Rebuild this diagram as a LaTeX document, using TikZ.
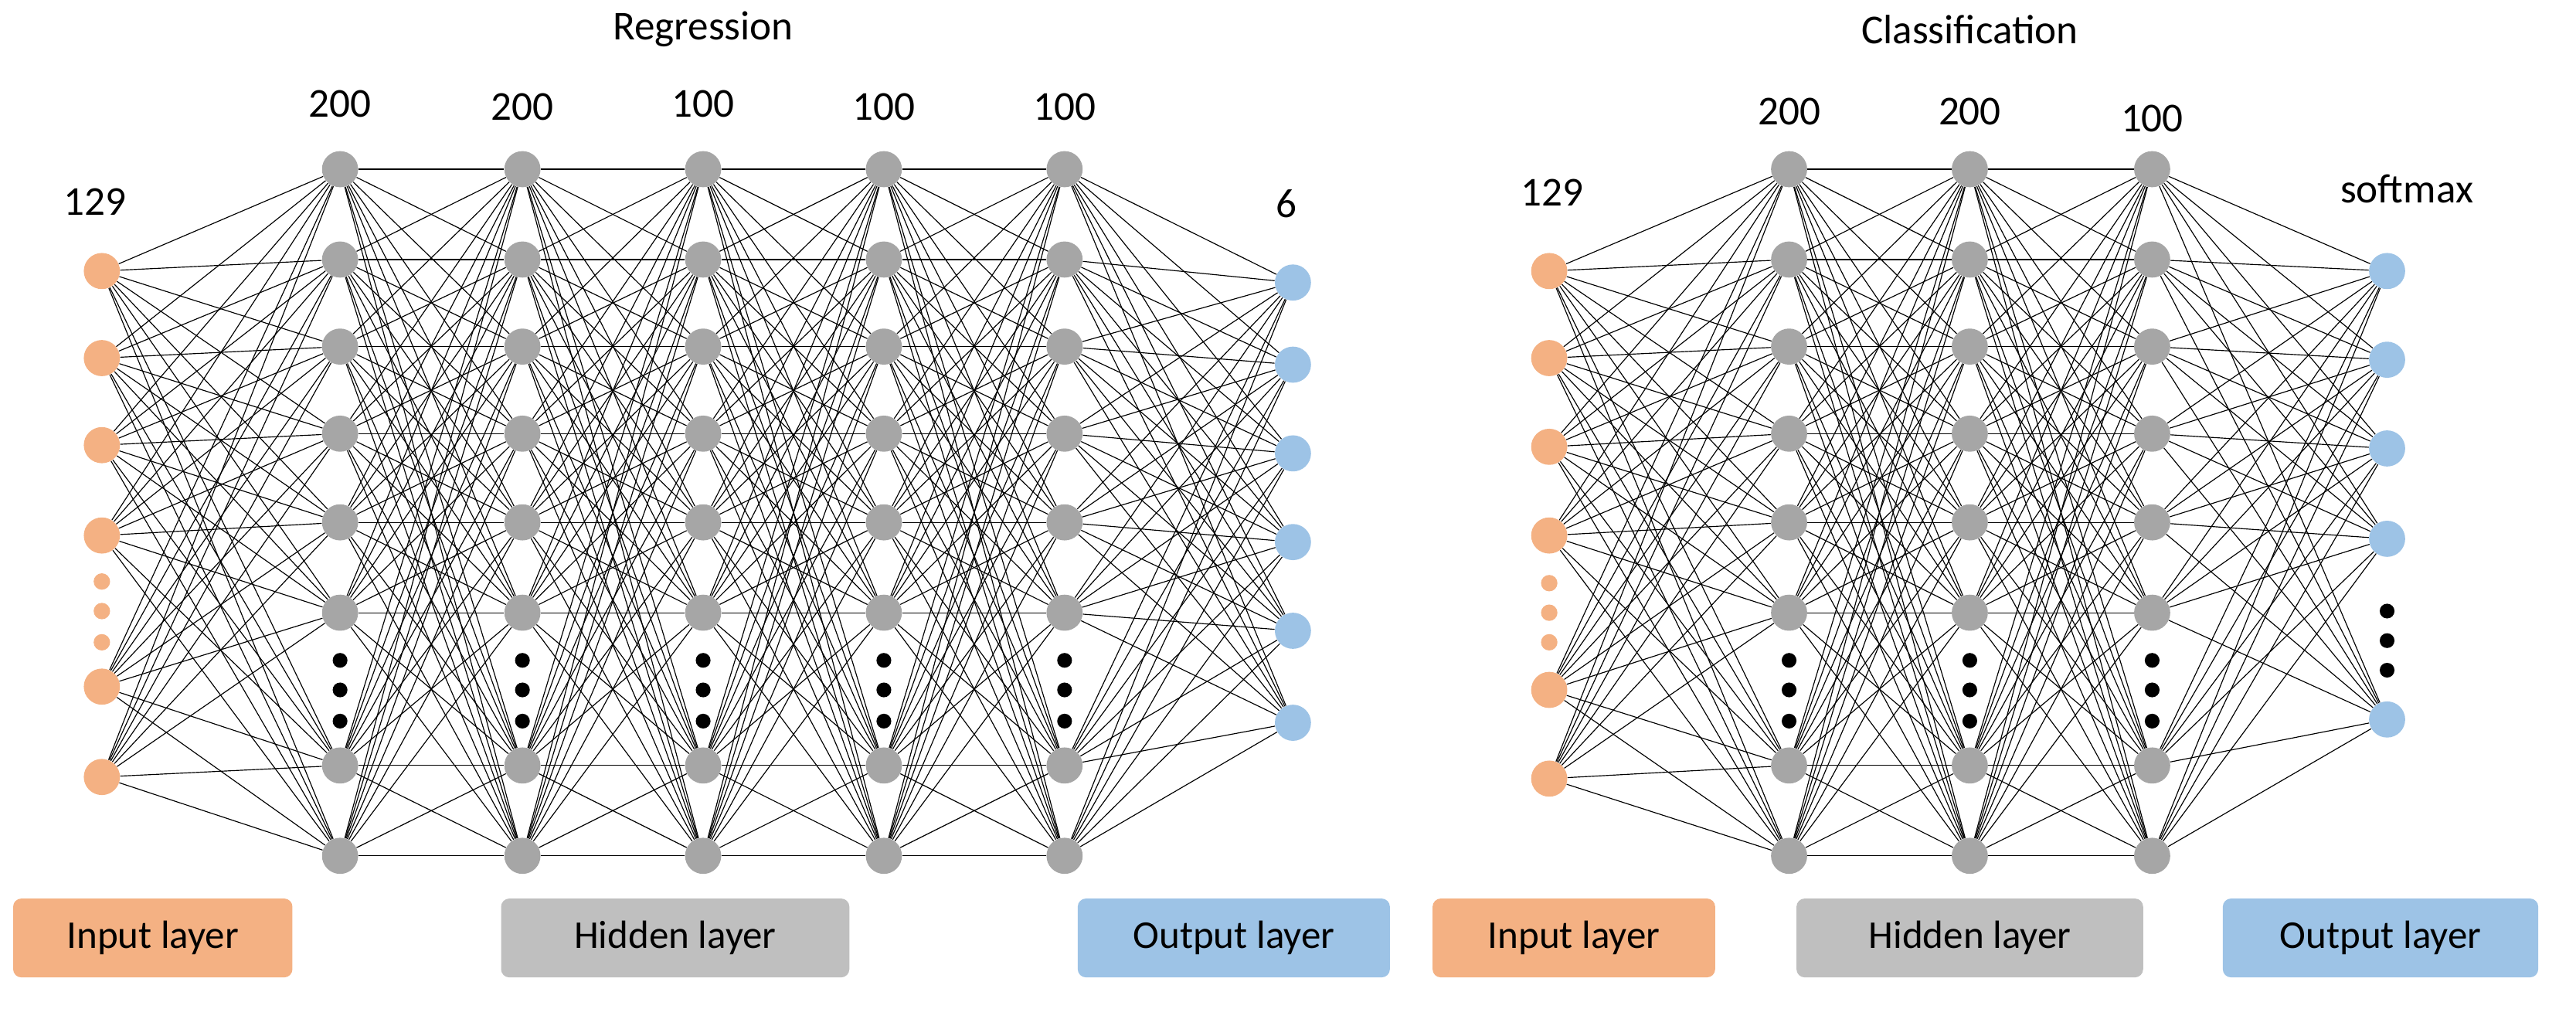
\documentclass[tikz,border=0pt]{standalone}
\usepackage{fontspec}
\setmainfont{Carlito}
\definecolor{cin}{RGB}{244,177,131}
\definecolor{chid}{RGB}{166,166,166}
\definecolor{cbox}{RGB}{191,191,191}
\definecolor{cout}{RGB}{157,195,230}
\begin{document}
\begin{tikzpicture}[x=1pt,y=-1pt,
 nd/.style={circle,minimum size=22pt,inner sep=0pt},
 inp/.style={nd,fill=cin},
 hid/.style={nd,fill=chid},
 outp/.style={nd,fill=cout},
 sdot/.style={circle,minimum size=10pt,inner sep=0pt,fill=cin},
 bdot/.style={circle,minimum size=9pt,inner sep=0pt,fill=black},
 ed/.style={line width=0.55pt,black},
 lab/.style={font=\fontsize{25}{28}\selectfont},
 box/.style={rectangle,rounded corners=5pt,minimum height=48pt,font=\fontsize{24}{26}\selectfont},
]
\useasboundingbox (0,0) rectangle (1568,620);
% ---------- Regression ----------
\foreach \y [count=\i] in {165,218,271,326,418,473} \node[inp] (ri\i) at (62,\y) {};
\foreach \y [count=\i] in {354,372,391} \node[sdot] (rs\i) at (62,\y) {};
\foreach \x [count=\c] in {207,318,428,538,648}{
  \foreach \y [count=\i] in {103,158,211,264,318,373,466,521} \node[hid] (rh\c-\i) at (\x,\y) {};
  \foreach \y [count=\i] in {402,420,439} \node[bdot] (rb\c-\i) at (\x,\y) {};
}
\foreach \y [count=\i] in {172,222,276,330,384,440} \node[outp] (ro\i) at (787,\y) {};
\foreach \a in {1,...,6} \foreach \b in {1,...,8} \draw[ed] (ri\a) -- (rh1-\b);
\foreach \c [evaluate=\c as \d using int(\c+1)] in {1,2,3,4}
  \foreach \a in {1,...,8} \foreach \b in {1,...,8} \draw[ed] (rh\c-\a) -- (rh\d-\b);
\foreach \a in {1,...,8} \foreach \b in {1,...,6} \draw[ed] (rh5-\a) -- (ro\b);
\node[lab] (rl0) at (58,123) {129};
\node[lab] (rl1) at (207,63) {200};
\node[lab] (rl2) at (318,65) {200};
\node[lab] (rl3) at (428,63) {100};
\node[lab] (rl4) at (538,65) {100};
\node[lab] (rl5) at (648,65) {100};
\node[lab] (rl6) at (783,124) {6};
\node[lab] (rt) at (428,18) {Regression};
\node[box,fill=cin,minimum width=170pt] (rbi) at (93,571) {Input layer};
\node[box,fill=cbox,minimum width=212pt] (rbh) at (411,571) {Hidden layer};
\node[box,fill=cout,minimum width=190pt] (rbo) at (751,571) {Output layer};
% ---------- Classification ----------
\foreach \y [count=\i] in {165,218,272,326,420,474} \node[inp] (ci\i) at (943,\y) {};
\foreach \y [count=\i] in {355,373,391} \node[sdot] (cs\i) at (943,\y) {};
\foreach \x [count=\c] in {1089,1199,1310}{
  \foreach \y [count=\i] in {103,158,211,264,318,373,466,521} \node[hid] (ch\c-\i) at (\x,\y) {};
  \foreach \y [count=\i] in {402,420,439} \node[bdot] (cb\c-\i) at (\x,\y) {};
}
\foreach \y [count=\i] in {165,219,273,328,438} \node[outp] (co\i) at (1453,\y) {};
\foreach \y [count=\i] in {372,390,408} \node[bdot] (cd\i) at (1453,\y) {};
\foreach \a in {1,...,6} \foreach \b in {1,...,8} \draw[ed] (ci\a) -- (ch1-\b);
\foreach \c [evaluate=\c as \d using int(\c+1)] in {1,2}
  \foreach \a in {1,...,8} \foreach \b in {1,...,8} \draw[ed] (ch\c-\a) -- (ch\d-\b);
\foreach \a in {1,...,8} \foreach \b in {1,...,5} \draw[ed] (ch3-\a) -- (co\b);
\node[lab] (cl0) at (945,117) {129};
\node[lab] (cl1) at (1089,68) {200};
\node[lab] (cl2) at (1199,68) {200};
\node[lab] (cl3) at (1310,72) {100};
\node[lab] (cl4) at (1465,115) {softmax};
\node[lab] (ct) at (1199,18) {Classification};
\node[box,fill=cin,minimum width=172pt] (cbi) at (958,571) {Input layer};
\node[box,fill=cbox,minimum width=211pt] (cbh) at (1199,571) {Hidden layer};
\node[box,fill=cout,minimum width=192pt] (cbo) at (1449,571) {Output layer};
\end{tikzpicture}
\end{document}
